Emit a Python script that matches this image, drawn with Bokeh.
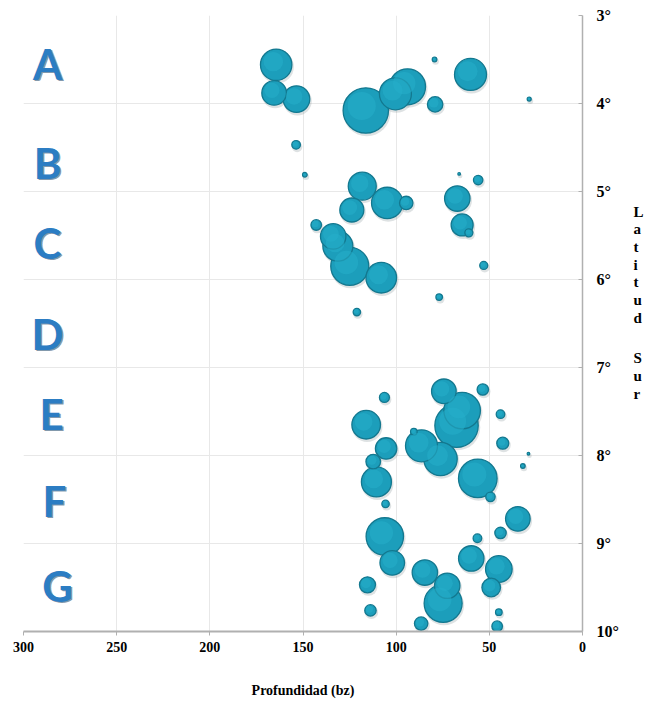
import numpy as np
from bokeh.plotting import figure
from bokeh.layouts import row
from bokeh.core.properties import value
from bokeh.models import Range1d, FixedTicker, Label, ColumnDataSource
from bokeh.embed import file_html
from bokeh.resources import INLINE

# ---- data ----
profundidad = [164.4, 165.5, 153.5, 116.3, 100.4, 93.9, 79.4, 60.1, 79.1, 28.6,
               153.7, 149.0, 66.2, 56.0, 118.2, 123.8, 104.8, 94.6, 67.2, 64.6,
               61.0, 142.9, 133.8, 131.3, 124.9, 108.0, 53.0, 76.9, 121.1,
               74.4, 53.5, 106.3, 64.6, 67.6, 116.1, 44.0, 42.8, 90.5, 86.4,
               76.2, 105.4, 112.3, 110.6, 56.2, 49.4, 29.0, 32.0, 105.7,
               106.1, 102.1, 34.7, 44.0, 56.4, 59.7, 44.9, 49.0, 84.6, 72.6,
               74.8, 115.4, 113.8, 86.6, 44.9, 45.8]
latitud = [3.56, 3.88, 3.95, 4.08, 3.89, 3.81, 3.50, 3.67, 4.01, 3.95,
           4.47, 4.81, 4.80, 4.87, 4.94, 5.21, 5.13, 5.13, 5.08, 5.38,
           5.47, 5.38, 5.51, 5.62, 5.85, 5.98, 5.84, 6.20, 6.37,
           7.27, 7.25, 7.34, 7.49, 7.66, 7.65, 7.53, 7.86, 7.73, 7.89,
           8.04, 7.92, 8.07, 8.30, 8.26, 8.47, 7.98, 8.12, 8.55,
           8.92, 9.22, 8.72, 8.88, 8.94, 9.17, 9.29, 9.50, 9.33, 9.48,
           9.68, 9.47, 9.76, 9.91, 9.78, 9.94]
abundancia = [15.7, 12.3, 13.3, 22.7, 16.0, 18.0, 2.3, 16.0, 7.7, 2.0,
              4.3, 2.3, 1.3, 4.7, 14.0, 12.0, 15.7, 6.7, 12.7, 11.0,
              4.0, 5.3, 12.7, 15.0, 19.0, 15.3, 4.0, 3.3, 3.7,
              12.3, 5.7, 5.0, 18.3, 21.7, 14.3, 4.3, 6.0, 3.3, 16.0,
              16.7, 10.7, 7.3, 15.0, 19.3, 4.7, 1.3, 2.3, 3.7,
              18.7, 12.3, 12.3, 5.7, 4.3, 12.7, 13.3, 9.3, 12.7, 12.7,
              19.0, 8.0, 5.7, 6.7, 3.3, 5.3]

grupos = ["A", "B", "C", "D", "E", "F", "G"]
prof_ticks = [300, 250, 200, 150, 100, 50, 0]
lat_ticks = [3, 4, 5, 6, 7, 8, 9, 10]
lat_labels = ["3°", "4°", "5°", "6°", "7°", "8°", "9°", "10°"]
texto_derecha = ["L", "a", "t", "i", "t", "u", "d", "S", "u", "r"]
titulo_x = "Profundidad (bz)"

# ---- main figure ----
W1, W2, H = 630, 15, 704
FL, FR, FT, FB = 23, 582, 15, 631   # frame edges in page pixels
p = figure(width=W1, height=H, x_range=Range1d(300, 0), y_range=Range1d(10, 3),
           y_axis_location="right", output_backend="svg", toolbar_location=None,
           min_border_left=FL, min_border_right=W1 - FR, min_border_top=FT,
           min_border_bottom=H - FB)
p.outline_line_color = None
p.background_fill_color = "white"
p.border_fill_color = "white"

p.xaxis.ticker = FixedTicker(ticks=prof_ticks)
p.yaxis.ticker = FixedTicker(ticks=lat_ticks)
p.yaxis.major_label_overrides = {t: l for t, l in zip(lat_ticks, lat_labels)}
p.xgrid.ticker = FixedTicker(ticks=prof_ticks)
p.ygrid.ticker = FixedTicker(ticks=lat_ticks)
p.grid.grid_line_color = "#e8e8e8"
p.grid.grid_line_width = 1

serif = "Liberation Serif"
for ax in (p.xaxis, p.yaxis):
    ax.major_label_text_font = serif
    ax.major_label_text_font_style = "bold"
    ax.major_label_text_color = "black"
    ax.minor_tick_line_color = None
    ax.axis_line_color = "#b0b0b0"
    ax.major_tick_line_color = "#b0b0b0"
p.xaxis.axis_line_width = 2
p.xaxis.major_label_text_font_size = "14px"
p.xaxis.major_tick_out = 4
p.xaxis.major_tick_in = 0
p.xaxis.major_label_standoff = 6
p.xaxis.axis_label = titulo_x
p.xaxis.axis_label_text_font = serif
p.xaxis.axis_label_text_font_style = "bold"
p.xaxis.axis_label_text_font_size = "14px"
p.xaxis.axis_label_text_color = "black"
p.xaxis.axis_label_standoff = 28
p.yaxis.axis_line_width = 1.5
p.yaxis.major_label_text_font_size = "16px"
p.yaxis.major_tick_out = 0
p.yaxis.major_tick_in = 4
p.yaxis.major_label_standoff = 14

# ---- bubbles ----
x = np.array(profundidad)
y = np.array(latitud)
a = np.array(abundancia)
order = np.argsort(-a)
x, y, a = x[order], y[order], a[order]
d = 2 * a

px_x = 300 / (FR - FL)   # data units per pixel (x)
px_y = 7 / (FB - FT)     # data units per pixel (y)

shadow = ColumnDataSource(dict(x=x - 1.0 * px_x, y=y + 2.0 * px_y, s=d + 2))
main = ColumnDataSource(dict(x=x, y=y, s=d))
hi = ColumnDataSource(dict(x=x + 0.18 * a * px_x, y=y - 0.2 * a * px_y, s=d * 0.62))

p.scatter("x", "y", size="s", source=shadow, fill_color="#6b7a80",
          fill_alpha=0.22, line_color=None)
p.scatter("x", "y", size="s", source=main, fill_color="#1c9ebb",
          line_color="#13788f", line_width=1.3)
p.scatter("x", "y", size="s", source=hi, fill_color="#26aecb",
          fill_alpha=0.55, line_color=None)


def lbl(px, py, text, **kw):
    """Label placed by page pixel (px, py from top-left); screen units are frame-relative."""
    p.add_layout(Label(x=px - FL, y=FB - py, x_units="screen", y_units="screen",
                       text=text, **kw))


# ---- group letters ----
letra_px = [(47, 63), (47, 162), (47, 242), (47, 333), (51, 413), (54, 500), (57, 585)]
for g, (lx, ly) in zip(grupos, letra_px):
    lbl(lx + 1.5, ly + 1.5, g, text_font="Lato", text_font_style="bold",
        text_font_size="42px", text_color="#173f63", text_alpha=0.55,
        text_align="center", text_baseline="middle")
    lbl(lx, ly, g, text_font="Lato", text_font_style="bold",
        text_font_size="42px", text_color="#2c7dc3",
        text_align="center", text_baseline="middle")

# ---- side strip with the cut-off text on the right ----
p2 = figure(width=W2, height=H, x_range=Range1d(0, W2), y_range=Range1d(H, 0),
            output_backend="svg", toolbar_location=None, min_border=0)
p2.axis.visible = False
p2.grid.visible = False
p2.outline_line_color = None
p2.background_fill_color = "white"
p2.border_fill_color = "white"
ys_right = [224, 244, 264, 285, 305, 325, 346, 391, 412, 432]
p2.text(x=[3] * len(texto_derecha), y=ys_right, text=texto_derecha,
        text_font=value(serif), text_font_style="bold",
        text_font_size="15px", text_color="black",
        text_align="left", text_baseline="middle")

layout = row(p, p2, spacing=0)
open("out.html", "w").write(file_html(layout, INLINE))
